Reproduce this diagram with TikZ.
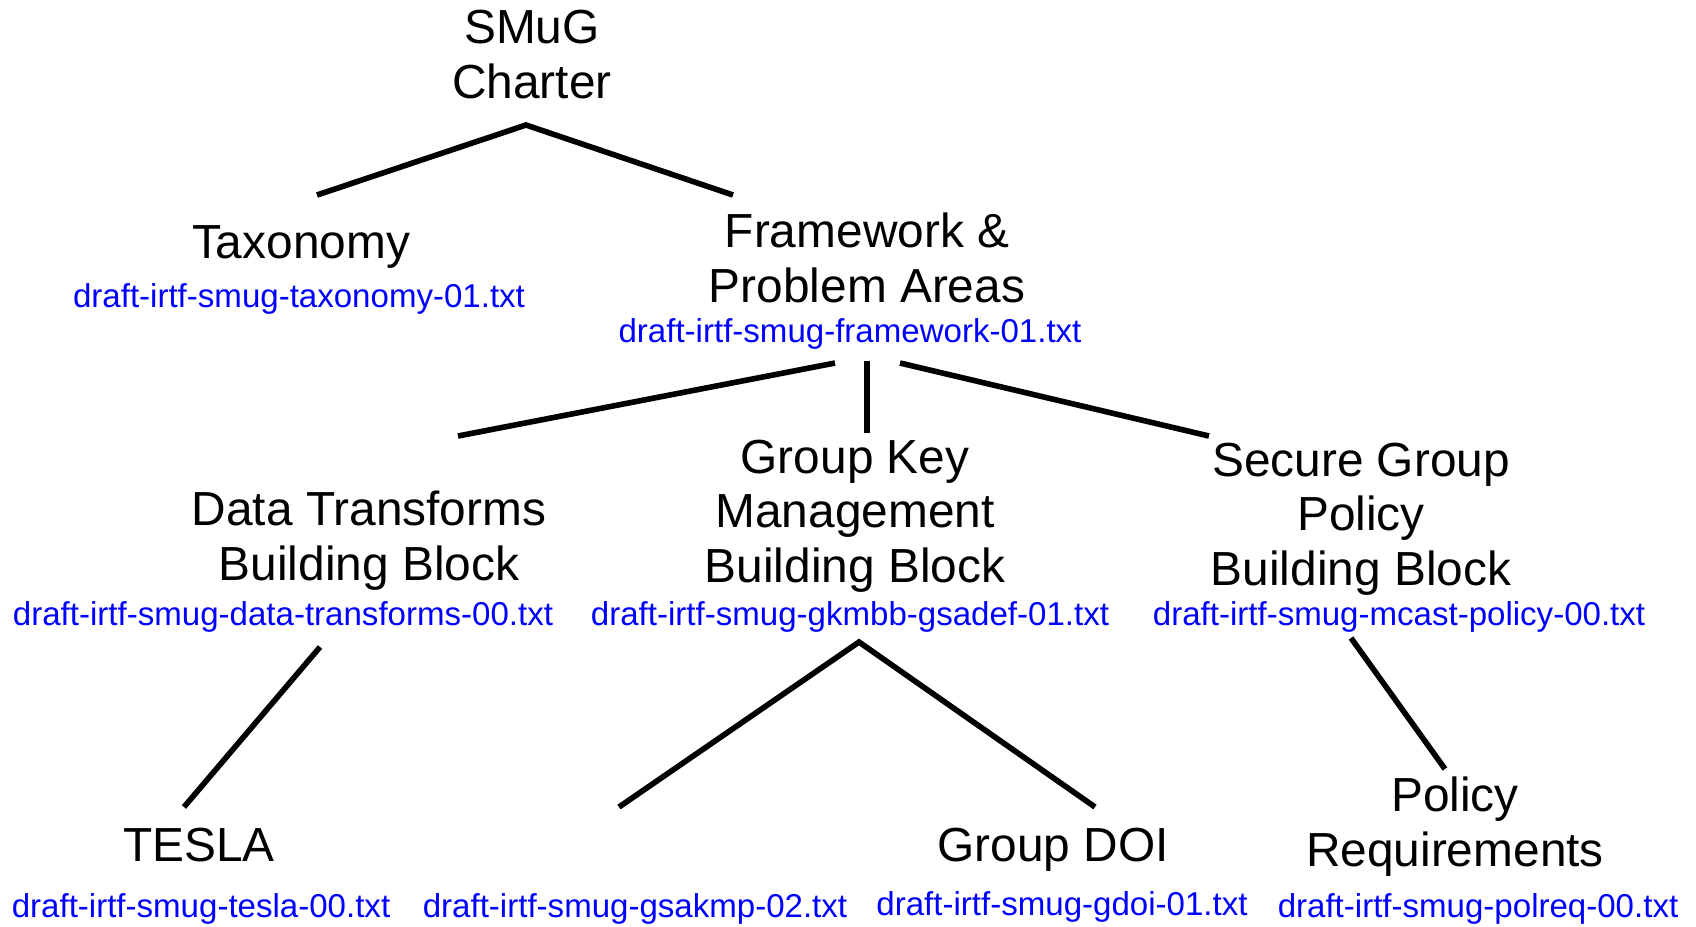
\documentclass[tikz,border=0pt]{standalone}
\usepackage{fontspec}
\setmainfont{Liberation Sans}
\usetikzlibrary{positioning}

\begin{document}
\begin{tikzpicture}[
    x=0.01cm, y=-0.01cm,
    topic/.style={
        font=\fontsize{13.6}{15.4}\selectfont,
        align=center,
        anchor=base,
        inner sep=0pt
    },
    doc/.style={font=\fontsize{9.4}{11}\selectfont, text=blue, anchor=base, inner sep=0pt},
    branch/.style={line width=1.6pt},
]
\useasboundingbox (0,0) rectangle (1696,926);

% top of the tree (base = last line)
\node[topic] (charter) at (532,98) {SMuG\\Charter};

\node[topic] (tax) at (301,258) {Taxonomy};
\node[doc] (taxdoc) at (299,307) {draft-irtf-smug-taxonomy-01.txt};

\node[topic] (frame) at (867,302) {Framework \&\\Problem Areas};
\node[doc] (framedoc) at (850,342) {draft-irtf-smug-framework-01.txt};

% building blocks
\node[topic] (dt) at (369,580) {Data Transforms\\Building Block};
\node[doc] (dtdoc) at (283,625) {draft-irtf-smug-data-transforms-00.txt};

\node[topic] (gkm) at (855,582) {Group Key\\Management\\Building Block};
\node[doc] (gkmdoc) at (850,625) {draft-irtf-smug-gkmbb-gsadef-01.txt};

\node[topic] (sgp) at (1361,585) {Secure Group\\Policy\\Building Block};
\node[doc] (sgpdoc) at (1399,625) {draft-irtf-smug-mcast-policy-00.txt};

% leaves
\node[topic] (tesla) at (199,861) {TESLA};
\node[doc] (tesladoc) at (201,917) {draft-irtf-smug-tesla-00.txt};

\node[doc] (gsakmpdoc) at (635,917) {draft-irtf-smug-gsakmp-02.txt};

\node[topic] (gdoi) at (1053,861) {Group DOI};
\node[doc] (gdoidoc) at (1062,915) {draft-irtf-smug-gdoi-01.txt};

\node[topic] (polreq) at (1455,866) {Policy\\Requirements};
\node[doc] (polreqdoc) at (1478,917) {draft-irtf-smug-polreq-00.txt};

% line ends
\coordinate (charter-fork) at (526,125);
\coordinate (tax-top) at (317,195);
\coordinate (frame-top) at (733,195);
\coordinate (frame-l) at (835,363);
\coordinate (frame-m) at (867,361);
\coordinate (frame-r) at (900,363);
\coordinate (dt-top) at (458,436);
\coordinate (gkm-top) at (867,433);
\coordinate (sgp-top) at (1209,436);
\coordinate (dt-foot) at (320,647);
\coordinate (tesla-top) at (184,807);
\coordinate (gkm-fork) at (859,642);
\coordinate (gsakmp-top) at (619,807);
\coordinate (gdoi-top) at (1095,807);
\coordinate (sgp-foot) at (1351,638);
\coordinate (polreq-top) at (1445,769);

\draw[branch] (tax-top) -- (charter-fork) -- (frame-top);
\draw[branch] (frame-l) -- (dt-top);
\draw[branch] (frame-m) -- (gkm-top);
\draw[branch] (frame-r) -- (sgp-top);
\draw[branch] (dt-foot) -- (tesla-top);
\draw[branch] (gsakmp-top) -- (gkm-fork) -- (gdoi-top);
\draw[branch] (sgp-foot) -- (polreq-top);

\end{tikzpicture}
\end{document}
